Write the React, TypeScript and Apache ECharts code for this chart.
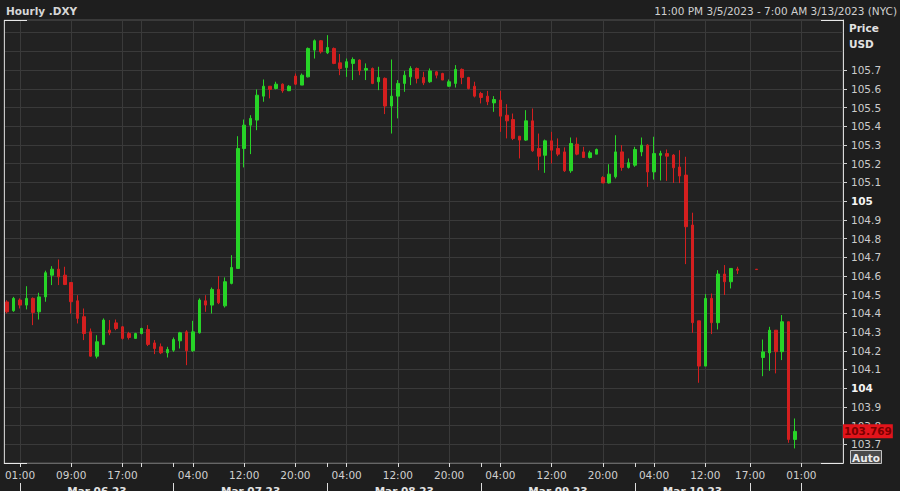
import React, { useEffect, useRef } from 'react';
import * as echarts from 'echarts';

// Each bar: [open, high, low, close]; null = no trade in that hourly slot
type Bar = [number, number, number, number] | null;

const mar06: Bar[] = [
  [104.461, 104.470, 104.400, 104.408],
  [104.414, 104.488, 104.408, 104.480],
  [104.471, 104.480, 104.426, 104.444],
  [104.444, 104.545, 104.421, 104.480],
  [104.480, 104.485, 104.337, 104.405],
  [104.408, 104.510, 104.367, 104.488],
  [104.488, 104.628, 104.462, 104.617],
  [104.604, 104.652, 104.551, 104.636],
  [104.636, 104.688, 104.551, 104.595],
  [104.604, 104.649, 104.551, 104.554],
  [104.565, 104.565, 104.399, 104.462],
  [104.467, 104.497, 104.346, 104.373],
  [104.382, 104.426, 104.257, 104.292],
  [104.301, 104.319, 104.168, 104.171],
  [104.171, 104.283, 104.159, 104.248],
  [104.234, 104.373, 104.230, 104.364],
  [104.310, 104.364, 104.283, 104.296],
  [104.349, 104.367, 104.310, 104.319],
  [104.328, 104.332, 104.260, 104.266],
  [104.292, 104.301, 104.260, 104.271],
  [104.266, 104.296, 104.266, 104.292],
  [104.292, 104.323, 104.288, 104.319],
  [104.314, 104.337, 104.225, 104.234],
  [104.242, 104.257, 104.182, 104.212],
  [104.221, 104.239, 104.182, 104.189],
  [104.189, 104.221, 104.164, 104.207],
];

const mar07: Bar[] = [
  [104.203, 104.271, 104.194, 104.260],
  [104.253, 104.301, 104.212, 104.296],
  [104.301, 104.310, 104.123, 104.200],
  [104.200, 104.360, 104.194, 104.301],
  [104.296, 104.480, 104.292, 104.471],
  [104.467, 104.497, 104.408, 104.444],
  [104.444, 104.538, 104.399, 104.528],
  [104.528, 104.599, 104.449, 104.456],
  [104.440, 104.592, 104.431, 104.569],
  [104.560, 104.711, 104.555, 104.645],
  [104.640, 105.347, 104.640, 105.281],
  [105.281, 105.436, 105.180, 105.406],
  [105.406, 105.459, 105.251, 105.442],
  [105.433, 105.597, 105.379, 105.566],
  [105.561, 105.650, 105.531, 105.614],
  [105.614, 105.614, 105.549, 105.597],
  [105.602, 105.638, 105.597, 105.625],
  [105.625, 105.629, 105.579, 105.590],
  [105.590, 105.620, 105.588, 105.614],
  [105.668, 105.682, 105.620, 105.625],
  [105.620, 105.682, 105.620, 105.673],
  [105.664, 105.821, 105.661, 105.816],
  [105.807, 105.864, 105.762, 105.857],
  [105.857, 105.861, 105.789, 105.798],
];

const mar08: Bar[] = [
  [105.793, 105.887, 105.786, 105.821],
  [105.816, 105.821, 105.732, 105.736],
  [105.739, 105.786, 105.673, 105.709],
  [105.714, 105.762, 105.664, 105.745],
  [105.736, 105.768, 105.647, 105.757],
  [105.754, 105.757, 105.673, 105.697],
  [105.700, 105.736, 105.647, 105.709],
  [105.709, 105.714, 105.625, 105.629],
  [105.638, 105.718, 105.593, 105.661],
  [105.656, 105.661, 105.465, 105.508],
  [105.508, 105.757, 105.361, 105.561],
  [105.561, 105.647, 105.442, 105.629],
  [105.629, 105.696, 105.584, 105.673],
  [105.664, 105.721, 105.620, 105.709],
  [105.709, 105.714, 105.629, 105.656],
  [105.661, 105.691, 105.620, 105.632],
  [105.638, 105.709, 105.632, 105.696],
  [105.691, 105.696, 105.656, 105.673],
  [105.682, 105.686, 105.647, 105.647],
  [105.614, 105.650, 105.611, 105.638],
  [105.629, 105.727, 105.607, 105.704],
  [105.704, 105.709, 105.625, 105.661],
  [105.661, 105.664, 105.597, 105.602],
  [105.614, 105.638, 105.554, 105.561],
];

const mar09: Bar[] = [
  [105.575, 105.584, 105.522, 105.554],
  [105.561, 105.589, 105.513, 105.531],
  [105.525, 105.561, 105.477, 105.543],
  [105.540, 105.589, 105.370, 105.454],
  [105.459, 105.518, 105.335, 105.429],
  [105.436, 105.468, 105.326, 105.335],
  [105.347, 105.347, 105.228, 105.326],
  [105.326, 105.486, 105.322, 105.429],
  [105.429, 105.495, 105.263, 105.269],
  [105.281, 105.361, 105.165, 105.240],
  [105.245, 105.329, 105.151, 105.322],
  [105.322, 105.370, 105.201, 105.272],
  [105.281, 105.335, 105.240, 105.251],
  [105.263, 105.287, 105.156, 105.162],
  [105.162, 105.340, 105.151, 105.308],
  [105.304, 105.340, 105.245, 105.251],
  [105.263, 105.290, 105.233, 105.233],
  [105.233, 105.269, 105.228, 105.258],
  [105.251, 105.281, 105.251, 105.276],
  [105.126, 105.133, 105.097, 105.097],
  [105.097, 105.197, 105.094, 105.144],
  [105.130, 105.352, 105.121, 105.263],
  [105.263, 105.299, 105.162, 105.180],
  [105.180, 105.228, 105.174, 105.205],
];

const mar10: Bar[] = [
  [105.192, 105.290, 105.183, 105.276],
  [105.263, 105.340, 105.240, 105.299],
  [105.299, 105.304, 105.076, 105.156],
  [105.156, 105.344, 105.115, 105.254],
  [105.245, 105.269, 105.110, 105.255],
  [105.254, 105.276, 105.108, 105.240],
  [105.246, 105.251, 105.097, 105.178],
  [105.182, 105.272, 105.096, 105.134],
  [105.139, 105.237, 104.663, 104.863],
  [104.872, 104.938, 104.296, 104.350],
  [104.360, 104.360, 104.029, 104.118],
  [104.118, 104.503, 104.118, 104.480],
  [104.480, 104.506, 104.289, 104.350],
  [104.350, 104.631, 104.314, 104.610],
  [104.610, 104.658, 104.498, 104.569],
  [104.569, 104.640, 104.533, 104.640],
  [104.637, 104.649, 104.610, 104.630],
];

const weekendGap: Bar[] = [null, null];

const mar12: Bar[] = [
  [104.636, 104.637, 104.633, 104.634],
  [104.164, 104.260, 104.064, 104.194],
  [104.189, 104.328, 104.093, 104.310],
  [104.310, 104.310, 104.079, 104.195],
  [104.195, 104.391, 104.150, 104.355],
  [104.355, 104.355, 103.708, 103.726],
  [103.726, 103.838, 103.678, 103.769],
];

const SLOT_COUNT = 131;
const hourTickSlots = [2, 10, 18, 29, 37, 45, 53, 61, 69, 77, 85, 93, 101, 109, 116, 124];
const hourTickLabels = ['01:00', '09:00', '17:00', '04:00', '12:00', '20:00', '04:00', '12:00', '20:00', '04:00', '12:00', '20:00', '04:00', '12:00', '17:00', '01:00'];
const minorTickSlots = [21, 26, 50, 74, 98];
const extraGridSlots = [21];
const dayLabelSlots = [14, 38, 62, 86, 107];
const dayLabels = ['Mar 06 23', 'Mar 07 23', 'Mar 08 23', 'Mar 09 23', 'Mar 10 23'];
const daySeparatorSlots = [2, 26, 50, 74, 98, 116, 124];

const priceMin = 103.6;
const priceMax = 105.968;
const priceStep = 0.1;
const priceLabelCeiling = 105.75;

const titleText = 'Hourly .DXY';
const rangeText = '11:00 PM 3/5/2023 - 7:00 AM 3/13/2023 (NYC)';

const FONT = "'DejaVu Sans', sans-serif";
const UP = '#27d427';
const DOWN = '#d41f1f';

export default function App() {
  const ref = useRef<HTMLDivElement>(null);

  useEffect(() => {
    if (!ref.current) return;
    const chart = echarts.init(ref.current, null, { renderer: 'svg' });

    const bars: Bar[] = [...mar06, ...mar07, ...mar08, ...mar09, ...mar10, ...weekendGap, ...mar12];
    const data = bars.map((b) => (b ? [b[0], b[3], b[2], b[1]] : ['-', '-', '-', '-']));
    const traded = bars.filter((b) => b !== null) as [number, number, number, number][];
    const lastClose = traded[traded.length - 1][3];

    const categories = Array.from({ length: SLOT_COUNT }, (_, i) => String(i));
    const hourLabelMap = new Map<number, string>();
    hourTickSlots.forEach((s, i) => hourLabelMap.set(s, hourTickLabels[i]));
    const tickSet = new Set<number>([...hourTickSlots, ...minorTickSlots]);
    const gridSet = new Set<number>([...hourTickSlots, ...extraGridSlots]);
    const dayLabelMap = new Map<number, string>();
    dayLabelSlots.forEach((s, i) => dayLabelMap.set(s, dayLabels[i]));
    const sepSet = new Set<number>(daySeparatorSlots);

    const option: any = {
      animation: false,
      backgroundColor: '#1e1e1e',
      textStyle: { fontFamily: FONT },
      grid: {
        left: 4,
        right: 57,
        top: 20,
        bottom: 28,
        show: true,
        backgroundColor: '#222222',
        borderColor: '#555555',
        borderWidth: 1,
        outerBoundsMode: 'none',
      },
      xAxis: [
        {
          type: 'category',
          data: categories,
          boundaryGap: true,
          position: 'bottom',
          axisLine: { show: true, lineStyle: { color: '#666666' } },
          axisTick: {
            show: true,
            alignWithLabel: true,
            interval: (i: number) => tickSet.has(i),
            length: 4,
            lineStyle: { color: '#dddddd' },
          },
          axisLabel: {
            interval: (i: number) => hourLabelMap.has(i),
            formatter: (_v: string, i: number) => hourLabelMap.get(i) ?? '',
            color: '#d0d0d0',
            fontSize: 10.5,
            fontFamily: FONT,
            margin: 6,
          },
          splitLine: {
            show: true,
            alignWithLabel: true,
            interval: (i: number) => gridSet.has(i),
            lineStyle: { color: '#3a3a3a', width: 1 },
          },
        },
        {
          type: 'category',
          data: categories,
          boundaryGap: true,
          position: 'bottom',
          offset: 20,
          axisLine: { show: false },
          axisTick: {
            show: true,
            alignWithLabel: true,
            interval: (i: number) => sepSet.has(i),
            length: 8,
            lineStyle: { color: '#dddddd' },
          },
          axisLabel: {
            interval: (i: number) => dayLabelMap.has(i),
            formatter: (_v: string, i: number) => dayLabelMap.get(i) ?? '',
            color: '#e2e2e2',
            fontWeight: 'bold',
            fontSize: 10.5,
            fontFamily: FONT,
            margin: 2,
          },
          splitLine: { show: false },
        },
      ],
      yAxis: {
        type: 'value',
        position: 'right',
        min: priceMin,
        max: priceMax,
        interval: priceStep,
        axisLine: { show: true, lineStyle: { color: '#d8d8d8' } },
        axisTick: { show: true, length: 4, lineStyle: { color: '#cfcfcf' } },
        axisLabel: {
          showMinLabel: false,
          showMaxLabel: false,
          margin: 8,
          color: '#cccccc',
          fontSize: 10.5,
          fontFamily: FONT,
          formatter: (v: number) => {
            const r = Math.round(v * 10) / 10;
            if (r > priceLabelCeiling) return '';
            if (Math.abs(r - Math.round(r)) < 1e-9) return `{b|${Math.round(r)}}`;
            return r.toFixed(1);
          },
          rich: {
            b: { fontWeight: 'bold', color: '#f4f4f4', fontSize: 10.5, fontFamily: FONT },
          },
        },
        splitLine: { show: true, lineStyle: { color: '#3a3a3a', width: 1 } },
      },
      series: [
        {
          type: 'candlestick',
          xAxisIndex: 0,
          yAxisIndex: 0,
          data,
          barWidth: 3,
          itemStyle: {
            color: UP,
            color0: DOWN,
            borderColor: UP,
            borderColor0: DOWN,
            borderWidth: 1,
          },
          markLine: {
            silent: true,
            symbol: ['none', 'none'],
            lineStyle: { color: 'rgba(0,0,0,0)', width: 0 },
            label: {
              show: true,
              position: 'end',
              distance: 0,
              formatter: lastClose.toFixed(3),
              backgroundColor: '#e3141b',
              color: '#7a0000',
              fontWeight: 'bold',
              fontSize: 10.5,
              fontFamily: FONT,
              padding: [2, 1, 1, 1],
            },
            data: [{ yAxis: lastClose }],
          },
        },
      ],
      graphic: [
        {
          type: 'text',
          x: 6,
          y: 11,
          style: { text: titleText, fill: '#d6d6d6', fontSize: 10.5, fontWeight: 'bold', fontFamily: FONT, verticalAlign: 'middle' },
        },
        {
          type: 'text',
          x: 897,
          y: 11,
          style: { text: rangeText, fill: '#d0d0d0', fontSize: 10.5, fontFamily: FONT, align: 'right', verticalAlign: 'middle' },
        },
        {
          type: 'rect',
          shape: { x: 844, y: 21, width: 5, height: 38 },
          style: { fill: '#1e1e1e' },
          z: 100,
        },
        {
          type: 'text',
          x: 849,
          y: 28,
          style: { text: 'Price', fill: '#e2e2e2', fontSize: 10.5, fontWeight: 'bold', fontFamily: FONT, verticalAlign: 'middle' },
          z: 101,
        },
        {
          type: 'text',
          x: 849,
          y: 44,
          style: { text: 'USD', fill: '#e2e2e2', fontSize: 10.5, fontWeight: 'bold', fontFamily: FONT, verticalAlign: 'middle' },
          z: 101,
        },
        {
          type: 'rect',
          shape: { x: 850.5, y: 450.5, width: 31, height: 13 },
          style: { fill: '#4a4a4a', stroke: '#c4c4c4', lineWidth: 1 },
          z: 100,
        },
        {
          type: 'text',
          x: 866,
          y: 457.5,
          style: { text: 'Auto', fill: '#ececec', fontSize: 10.5, fontWeight: 'bold', fontFamily: FONT, align: 'center', verticalAlign: 'middle' },
          z: 101,
        },
        { type: 'line', shape: { x1: 4.5, y1: 20, x2: 4.5, y2: 464 }, style: { stroke: '#c8c8c8', lineWidth: 1 }, z: 100 },
        { type: 'line', shape: { x1: 4, y1: 20.5, x2: 27, y2: 20.5 }, style: { stroke: '#e8e8e8', lineWidth: 1 }, z: 100 },
        { type: 'line', shape: { x1: 821, y1: 20.5, x2: 843.5, y2: 20.5 }, style: { stroke: '#e8e8e8', lineWidth: 1 }, z: 100 },
        { type: 'line', shape: { x1: 4, y1: 463.5, x2: 27, y2: 463.5 }, style: { stroke: '#e8e8e8', lineWidth: 1 }, z: 100 },
        { type: 'line', shape: { x1: 821, y1: 463.5, x2: 843.5, y2: 463.5 }, style: { stroke: '#e8e8e8', lineWidth: 1 }, z: 100 },
      ],
    };

    chart.setOption(option);
    return () => chart.dispose();
  }, []);

  return <div ref={ref} style={{ position: 'fixed', left: 0, top: 0, width: 900, height: 491 }} />;
}
